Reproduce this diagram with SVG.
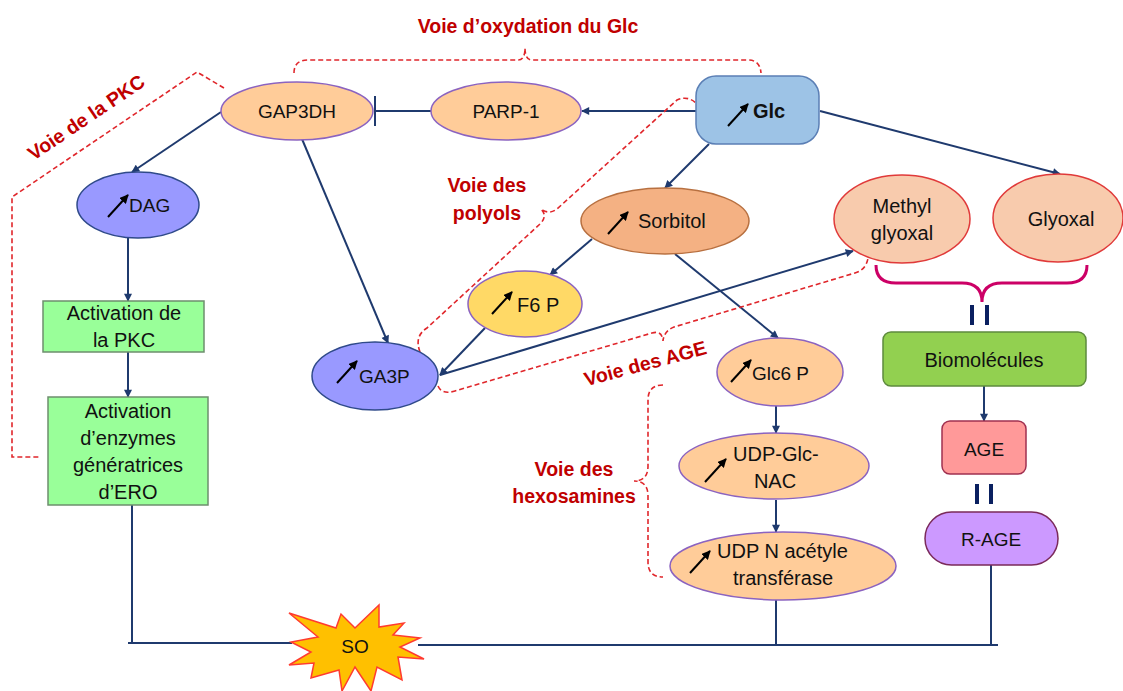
<svg xmlns="http://www.w3.org/2000/svg" width="1123" height="691" viewBox="0 0 1123 691">
<defs>
<marker id="ah" viewBox="0 0 10 10" refX="9" refY="5" markerWidth="9" markerHeight="8" markerUnits="userSpaceOnUse" orient="auto"><path d="M0,0 L10,5 L0,10 z" fill="#1F3A6E"/></marker>
<marker id="ih" viewBox="0 0 10 10" refX="9" refY="5" markerWidth="9" markerHeight="9" markerUnits="userSpaceOnUse" orient="auto"><path d="M0,0 L10,5 L0,10 z" fill="#000"/></marker>
<style>
.t{font-family:"Liberation Sans",Arial,sans-serif;font-size:19px;fill:#111;}
.m{text-anchor:middle;}
.r{font-family:"Liberation Sans",Arial,sans-serif;font-size:19.5px;font-weight:bold;fill:#C00000;}
.c{stroke:#1F3A6E;stroke-width:2;fill:none;}
.d{stroke:#E0262B;stroke-width:1.6;fill:none;stroke-dasharray:5,3;}
.ic{stroke:#000;stroke-width:2;fill:none;marker-end:url(#ih);}
.pe{fill:#FFCC99;stroke:#8B63C0;stroke-width:1.5;}
.bl{fill:#9999FF;stroke:#2F4A8A;stroke-width:1.5;}
.gr{fill:#99FF99;stroke:#6E8E6E;stroke-width:1.5;}
.mg{fill:#F8CBAD;stroke:#E03A3A;stroke-width:1.5;}
</style>
</defs>

<g id="connectors">
<path class="c" d="M696,111 L582,111" marker-end="url(#ah)"/>
<path class="c" d="M431,111 L375,111 M375,96 L375,126"/>
<path class="c" d="M709,144 L665,188" marker-end="url(#ah)"/>
<path class="c" d="M820,111 L1060,174" marker-end="url(#ah)"/>
<path class="c" d="M221,112 L132,172" marker-end="url(#ah)"/>
<path class="c" d="M302,139 L388,343" marker-end="url(#ah)"/>
<path class="c" d="M128,238 L128,301" marker-end="url(#ah)"/>
<path class="c" d="M128,352 L128,397" marker-end="url(#ah)"/>
<path class="c" d="M592,239 L550,275" marker-end="url(#ah)"/>
<path class="c" d="M675,254 L778,338" marker-end="url(#ah)"/>
<path class="c" d="M485,328 L440,375" marker-end="url(#ah)"/>
<path class="c" d="M440,375 L853,251" marker-end="url(#ah)"/>
<path class="c" d="M776,406 L776,433" marker-end="url(#ah)"/>
<path class="c" d="M776,500 L776,532" marker-end="url(#ah)"/>
<path class="c" d="M984,386 L984,421" marker-end="url(#ah)"/>
<path class="c" d="M132,505 L132,643 M128,643 L292,643"/>
<path class="c" d="M418,645 L998,645"/>
<path class="c" d="M776,600 L776,645"/>
<path class="c" d="M991,565 L991,645"/>
<path d="M972,305 L972,325 M987,305 L987,325 M977,484 L977,504 M991,484 L991,504" stroke="#0A2060" stroke-width="4" fill="none"/>
<path d="M876,265 Q876,283 896,283 L962,283 Q982,283 982,302 Q982,283 1002,283 L1067,283 Q1087,283 1087,265" stroke="#CC0066" stroke-width="3" fill="none"/>
</g>

<g id="pathway-braces">
<path class="d" d="M294,73 Q294,60 308,60 L518,60 Q525,60 525,48 Q525,60 532,60 L748,60 Q760,60 761,73"/>
<path class="d" d="M224,88 L197,72 L12,197 L12,457 L40,457"/>
<path class="d" d="M420,352 Q414,336 427,328 L540,224 Q548,216 541,209 Q549,215 557,209 L677,100 Q688,95 697,104"/>
<path class="d" d="M438,386 Q442,395 455,391 L652,333 Q662,330 663,341 Q664,331 674,327 L855,273 Q866,270 868,258"/>
<path class="d" d="M663,385 Q648,385 648,400 L648,466 Q648,481 634,481 Q648,481 648,496 L648,562 Q648,577 663,577"/>
</g>

<g id="labels">
<text class="r m" x="528" y="33">Voie d’oxydation du Glc</text>
<text class="r m" transform="translate(90,123) rotate(-34)">Voie de la PKC</text>
<text class="r m" x="487" y="192">Voie des</text>
<text class="r m" x="487" y="220">polyols</text>
<text class="r m" transform="translate(647,370) rotate(-15)">Voie des AGE</text>
<text class="r m" x="574" y="476">Voie des</text>
<text class="r m" x="574" y="503">hexosamines</text>
</g>

<g id="glc">
<rect x="696" y="76" width="123" height="68" rx="20" fill="#9DC3E6" stroke="#5B7FB5" stroke-width="1.5"/>
<path class="ic" d="M728,126 L748,104"/>
<text class="t" x="753" y="118" style="font-weight:bold;font-size:20px">Glc</text>
</g>
<g id="parp1">
<ellipse class="pe" cx="506" cy="111" rx="75" ry="29"/>
<text class="t m" x="506" y="118">PARP-1</text>
</g>
<g id="gap3dh">
<ellipse class="pe" cx="297" cy="111" rx="76" ry="29"/>
<text class="t m" x="297" y="118">GAP3DH</text>
</g>
<g id="dag">
<ellipse class="bl" cx="138" cy="205" rx="61" ry="33"/>
<path class="ic" d="M108,217 L128,195"/>
<text class="t" x="129" y="212">DAG</text>
</g>
<g id="act-pkc">
<rect class="gr" x="43" y="301" width="161" height="51"/>
<text class="t m" x="124" y="320" style="font-size:20px">Activation de</text>
<text class="t m" x="124" y="347" style="font-size:20px">la PKC</text>
</g>
<g id="act-enz">
<rect class="gr" x="48" y="397" width="160" height="108"/>
<text class="t m" x="128" y="418" style="font-size:20px">Activation</text>
<text class="t m" x="128" y="445" style="font-size:20px">d’enzymes</text>
<text class="t m" x="128" y="472" style="font-size:20px">génératrices</text>
<text class="t m" x="128" y="499" style="font-size:20px">d’ERO</text>
</g>
<g id="sorbitol">
<ellipse cx="665" cy="221" rx="84" ry="33" fill="#F4B183" stroke="#B87040" stroke-width="1.5"/>
<path class="ic" d="M608,234 L628,212"/>
<text class="t" x="638" y="228" style="font-size:20px">Sorbitol</text>
</g>
<g id="f6p">
<ellipse cx="525" cy="304" rx="57" ry="33" fill="#FFD966" stroke="#8B63C0" stroke-width="1.5"/>
<path class="ic" d="M492,314 L512,292"/>
<text class="t" x="517" y="312" style="font-size:20px">F6 P</text>
</g>
<g id="ga3p">
<ellipse class="bl" cx="375" cy="376" rx="63" ry="34"/>
<path class="ic" d="M337,383 L357,361"/>
<text class="t" x="359" y="383">GA3P</text>
</g>
<g id="methylglyoxal">
<ellipse class="mg" cx="902" cy="219" rx="68" ry="44"/>
<text class="t m" x="902" y="213" style="font-size:20px">Methyl</text>
<text class="t m" x="902" y="240" style="font-size:20px">glyoxal</text>
</g>
<g id="glyoxal">
<ellipse class="mg" cx="1058" cy="218" rx="65" ry="44"/>
<text class="t m" x="1061" y="226" style="font-size:20px">Glyoxal</text>
</g>
<g id="glc6p">
<ellipse class="pe" cx="780" cy="372" rx="63" ry="34"/>
<path class="ic" d="M731,382 L751,360"/>
<text class="t" x="752" y="380">Glc6 P</text>
</g>
<g id="udpglcnac">
<ellipse class="pe" cx="774" cy="466" rx="95" ry="33"/>
<path class="ic" d="M705,482 L726,459"/>
<text class="t" x="733" y="461" style="font-size:20px">UDP-Glc-</text>
<text class="t m" x="775" y="488" style="font-size:20px">NAC</text>
</g>
<g id="udpn">
<ellipse class="pe" cx="783" cy="566" rx="113" ry="34"/>
<path class="ic" d="M690,573 L710,551"/>
<text class="t" x="717" y="558" style="font-size:20px">UDP N acétyle</text>
<text class="t m" x="783" y="585" style="font-size:20px">transférase</text>
</g>
<g id="biomolecules">
<rect x="883" y="332" width="203" height="54" rx="8" fill="#92D050" stroke="#5E8A3E" stroke-width="1.5"/>
<text class="t m" x="984" y="367" style="font-size:20px">Biomolécules</text>
</g>
<g id="age">
<rect x="942" y="421" width="84" height="53" rx="8" fill="#FF9999" stroke="#A03050" stroke-width="1.5"/>
<text class="t m" x="984" y="456">AGE</text>
</g>
<g id="rage">
<rect x="925" y="512" width="133" height="53" rx="26.5" fill="#CC99FF" stroke="#7A2A5A" stroke-width="1.5"/>
<text class="t m" x="991" y="546">R-AGE</text>
</g>
<g id="so">
<path d="M289,613 L336,628 L341,614 L355,628 L379,605 L379,627 L404,623 L393,635 L420,638 L400,647 L424,659 L398,657 L402,680 L377,667 L371,691 L355,667 L342,691 L339,670 L311,678 L314,663 L289,665 L311,652 L291,642 L318,637 Z" fill="#FFC000" stroke="#FF3B30" stroke-width="1.5"/>
<text class="t m" x="355" y="653">SO</text>
</g>
</svg>
